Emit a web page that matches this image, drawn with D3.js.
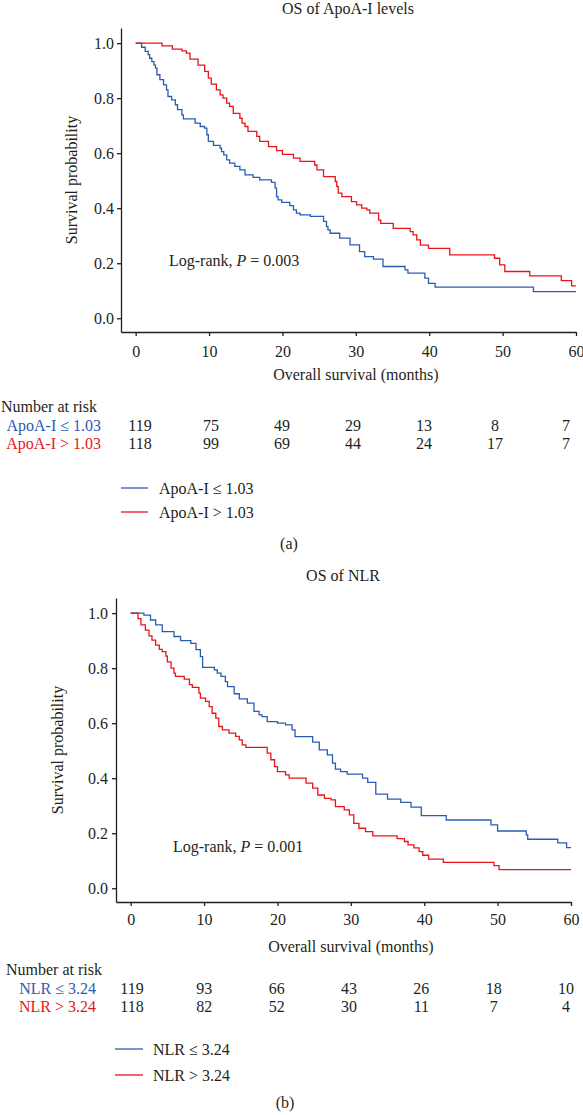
<!DOCTYPE html>
<html><head><meta charset="utf-8">
<script src="https://cdn.jsdelivr.net/npm/d3@7"></script>
<style>
body{margin:0;background:#fff}
svg{display:block}
text{font-family:"Liberation Serif","Times New Roman",serif;fill:#231f20}
</style>
</head><body>
<svg id="c" width="583" height="1115"></svg>
<script>
// ---------- DATA ----------
const xTicks = [0, 10, 20, 30, 40, 50, 60];
const yTicks = [0, 0.2, 0.4, 0.6, 0.8, 1.0];
const riskTimes = [0, 10, 20, 30, 40, 50, 60];

// Panel (a): ApoA-I
const apoLowTime = [0,0.8,1.3,1.7,1.9,2.2,2.5,2.7,2.9,3.3,3.8,4.2,4.4,4.9,5.4,5.7,6.3,6.5,8.1,8.8,9.4,9.7,9.9,10.6,11.5,11.7,12.0,12.4,12.8,13.5,14.2,14.9,16.0,16.9,18.5,19.0,19.2,19.4,19.9,21.0,21.5,21.9,22.4,23.8,25.6,26.0,26.2,26.5,27.8,29.2,30.5,31.2,32.4,33.7,36.7,37.1,39.4,39.9,40.8,54.2];
const apoLowSurv = [1.0,0.985,0.97,0.958,0.945,0.933,0.92,0.909,0.885,0.867,0.848,0.83,0.806,0.794,0.776,0.758,0.739,0.725,0.709,0.697,0.691,0.667,0.643,0.628,0.618,0.606,0.594,0.576,0.564,0.552,0.539,0.521,0.512,0.503,0.494,0.473,0.442,0.430,0.421,0.409,0.394,0.382,0.376,0.37,0.352,0.333,0.321,0.309,0.291,0.267,0.242,0.224,0.215,0.188,0.176,0.164,0.146,0.127,0.113,0.097];
const apoHighTime = [0,3.6,5.0,6.3,6.9,7.4,8.5,9.4,9.9,10.3,11.0,11.5,11.9,12.4,12.8,13.3,14.2,14.5,14.9,15.3,16.5,16.9,18.1,19.2,20.0,21.5,22.4,24.4,24.7,25.6,27.2,27.4,27.6,28.1,29.4,30.1,30.8,31.5,31.9,33.1,33.4,35.1,37.4,37.8,38.3,38.8,39.9,42.8,48.9,49.6,50.3,53.7,58.0,59.4];
const apoHighSurv = [1.0,0.99,0.978,0.972,0.964,0.942,0.92,0.897,0.873,0.851,0.83,0.812,0.8,0.782,0.770,0.745,0.727,0.709,0.697,0.679,0.661,0.643,0.624,0.609,0.596,0.582,0.57,0.557,0.539,0.515,0.497,0.479,0.455,0.442,0.424,0.412,0.4,0.394,0.382,0.357,0.345,0.327,0.315,0.303,0.285,0.266,0.254,0.230,0.218,0.194,0.170,0.154,0.137,0.118];
const apoLowRisk = [119, 75, 49, 29, 13, 8, 7];
const apoHighRisk = [118, 99, 69, 44, 24, 17, 7];

// Panel (b): NLR
const nlrLowTime = [0,1.8,2.7,3.4,4.3,5.9,6.8,8.2,8.9,9.5,9.8,11.4,11.8,12.3,12.9,13.2,14.1,14.8,15.9,16.8,17.5,17.9,18.6,20.0,21.1,22.0,22.4,24.8,25.7,26.8,27.5,27.9,28.6,29.5,31.6,32.3,33.4,35.0,36.8,38.2,39.6,43.0,49.1,50.0,53.9,54.1,58.2,59.4];
const nlrLowSurv = [1.0,0.993,0.975,0.957,0.933,0.915,0.9,0.89,0.867,0.842,0.803,0.794,0.782,0.77,0.751,0.733,0.707,0.688,0.673,0.643,0.63,0.624,0.606,0.6,0.594,0.576,0.551,0.531,0.503,0.485,0.455,0.433,0.424,0.415,0.4,0.385,0.342,0.324,0.312,0.295,0.264,0.248,0.23,0.208,0.194,0.178,0.165,0.148];
const nlrHighTime = [0,1.0,1.4,2.0,2.5,2.9,3.4,3.9,4.3,4.8,5.0,5.5,5.9,6.1,7.3,8.0,8.4,9.3,9.5,10.2,10.7,11.1,11.6,12.0,12.5,13.4,14.3,14.8,15.2,15.7,18.6,19.1,19.6,20.0,21.1,21.6,23.9,24.8,25.5,26.4,27.3,27.9,29.1,29.8,30.4,31.1,32.0,33.0,36.3,37.3,37.8,38.6,39.3,39.8,40.6,42.6,49.5,50.2];
const nlrHighSurv = [1.0,0.98,0.957,0.938,0.917,0.902,0.884,0.868,0.86,0.844,0.823,0.8,0.782,0.77,0.76,0.74,0.73,0.709,0.691,0.679,0.66,0.636,0.618,0.588,0.576,0.564,0.552,0.539,0.521,0.512,0.491,0.467,0.442,0.424,0.412,0.4,0.382,0.364,0.339,0.327,0.321,0.297,0.285,0.267,0.236,0.218,0.206,0.19,0.18,0.17,0.158,0.147,0.133,0.12,0.106,0.094,0.082,0.068];
const nlrLowRisk = [119, 93, 66, 43, 26, 18, 10];
const nlrHighRisk = [118, 82, 52, 30, 11, 7, 4];

const BLUE = "#2b5cb3", RED = "#e8141c", INK = "#231f20";
const FS = 16;

const panels = [
  {
    title: "OS of ApoA-I levels", titleX: 348, titleY: 8,
    x0: 121, x1: 576, yTop: 28, yBot: 332, xPad: 10, yPad: 3,
    logX: 169, logY: 260, pval: "0.003",
    xTitleY: 374,
    series: [
      {name: "ApoA-I \u2264 1.03", t: apoLowTime, s: apoLowSurv, risk: apoLowRisk, color: BLUE},
      {name: "ApoA-I > 1.03", t: apoHighTime, s: apoHighSurv, risk: apoHighRisk, color: RED}
    ],
    riskHeadX: 1, riskHeadY: 406, riskLabelX: 101, riskRowY: [425, 443], riskRange: [140, 566],
    legLineX: [121, 148], legTextX: 159, legY: [488, 512],
    tag: "(a)", tagX: 289, tagY: 543,
    yTitleX: 71
  },
  {
    title: "OS of NLR", titleX: 343, titleY: 575,
    x0: 116, x1: 571, yTop: 598, yBot: 902, xPad: 8, yPad: 4,
    logX: 173, logY: 846, pval: "0.001",
    xTitleY: 946,
    series: [
      {name: "NLR \u2264 3.24", t: nlrLowTime, s: nlrLowSurv, risk: nlrLowRisk, color: BLUE},
      {name: "NLR > 3.24", t: nlrHighTime, s: nlrHighSurv, risk: nlrHighRisk, color: RED}
    ],
    riskHeadX: 6, riskHeadY: 969, riskLabelX: 96, riskRowY: [988, 1006.5], riskRange: [132, 566],
    legLineX: [115, 143], legTextX: 153, legY: [1049, 1075],
    tag: "(b)", tagX: 285, tagY: 1102.5,
    yTitleX: 57
  }
];

const svg = d3.select("#c");

panels.forEach(p => {
  const g = svg.append("g");
  const x = d3.scaleLinear().domain([-2, 60]).range([p.x0, p.x1]);
  const y = d3.scaleLinear().domain([-0.05, 1.055]).range([p.yBot, p.yTop]);

  // title
  g.append("text").attr("x", p.titleX).attr("y", p.titleY).attr("dy", "0.35em")
    .attr("text-anchor", "middle").style("font-size", FS + "px").text(p.title);

  // y axis
  const ya = g.append("g").attr("transform", `translate(${p.x0},0)`)
    .call(d3.axisLeft(y).tickValues(yTicks).tickFormat(d3.format(".1f")).tickSize(4).tickSizeOuter(0).tickPadding(p.yPad));
  // x axis
  const xa = g.append("g").attr("transform", `translate(0,${p.yBot})`)
    .call(d3.axisBottom(x).tickValues(xTicks).tickSize(4).tickSizeOuter(0).tickPadding(p.xPad));
  [ya, xa].forEach(a => {
    a.selectAll("path,line").attr("stroke", INK).attr("stroke-width", 1.3);
    a.selectAll("text").style("font-size", FS + "px").style("font-family", '"Liberation Serif",serif').attr("fill", INK);
  });

  // axis titles
  g.append("text").attr("transform", `translate(${p.yTitleX},${(p.yTop + p.yBot) / 2}) rotate(-90)`)
    .attr("text-anchor", "middle").attr("dy", "0.35em").style("font-size", FS + "px").text("Survival probability");
  g.append("text").attr("x", x(30)).attr("y", p.xTitleY).attr("dy", "0.35em")
    .attr("text-anchor", "middle").style("font-size", FS + "px").text("Overall survival (months)");

  // curves
  const line = d3.line().x(d => x(d[0])).y(d => y(d[1])).curve(d3.curveStepAfter);
  p.series.forEach(se => {
    const pts = se.t.map((t, i) => [t, se.s[i]]);
    pts.push([60, se.s[se.s.length - 1]]);
    g.append("path").datum(pts).attr("d", line).attr("fill", "none")
      .attr("stroke", se.color).attr("stroke-width", 1.3);
  });

  // log-rank
  const lt = g.append("text").attr("x", p.logX).attr("y", p.logY).attr("dy", "0.35em").style("font-size", FS + "px");
  lt.append("tspan").text("Log-rank, ");
  lt.append("tspan").style("font-style", "italic").text("P");
  lt.append("tspan").text(" = " + p.pval);

  // risk table
  const rx = d3.scaleLinear().domain([0, 60]).range(p.riskRange);
  g.append("text").attr("x", p.riskHeadX).attr("y", p.riskHeadY).attr("dy", "0.35em")
    .style("font-size", FS + "px").text("Number at risk");
  p.series.forEach((se, i) => {
    g.append("text").attr("x", p.riskLabelX).attr("y", p.riskRowY[i]).attr("dy", "0.35em")
      .attr("text-anchor", "end").style("font-size", FS + "px").style("fill", se.color).text(se.name);
    g.selectAll(null).data(se.risk).enter().append("text")
      .attr("x", (d, j) => rx(riskTimes[j])).attr("y", p.riskRowY[i]).attr("dy", "0.35em")
      .attr("text-anchor", "middle").style("font-size", FS + "px").text(d => d);
  });

  // legend
  p.series.forEach((se, i) => {
    g.append("line").attr("x1", p.legLineX[0]).attr("x2", p.legLineX[1])
      .attr("y1", p.legY[i]).attr("y2", p.legY[i]).attr("stroke", se.color).attr("stroke-width", 1.3);
    g.append("text").attr("x", p.legTextX).attr("y", p.legY[i]).attr("dy", "0.35em")
      .style("font-size", FS + "px").text(se.name);
  });

  // panel tag
  g.append("text").attr("x", p.tagX).attr("y", p.tagY).attr("dy", "0.35em")
    .attr("text-anchor", "middle").style("font-size", FS + "px").text(p.tag);
});
</script>
</body></html>
